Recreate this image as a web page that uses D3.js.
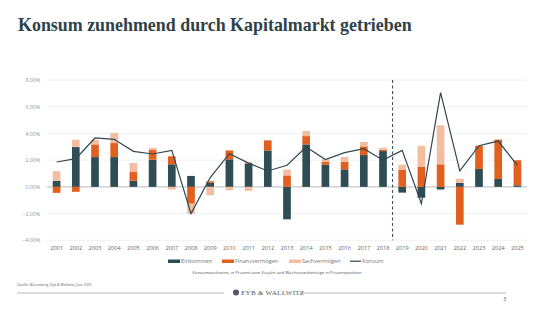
<!DOCTYPE html>
<html>
<head>
<meta charset="utf-8">
<script src="https://cdn.jsdelivr.net/npm/d3@7"></script>
<style>
  body { margin: 0; background: #fff; }
  svg { display: block; }
</style>
</head>
<body>
<div id="chart"></div>
<script>
// data (percent / percentage points)
const years = ["2001","2002","2003","2004","2005","2006","2007","2008","2009","2010","2011","2012","2013",
               "2014","2015","2016","2017","2018","2019","2020","2021","2022","2023","2024","2025"];
const einkommen = [0.45, 2.98, 2.23, 2.23, 0.46, 2.03, 1.69, 0.82, 0.3, 2.06, 1.74, 2.73, -2.43,
                   3.18, 1.66, 1.31, 2.38, 2.68, -0.43, -0.81, -0.2, 0.3, 1.34, 0.59, 0.12];
const finanz = [-0.45, -0.37, 0.95, 1.05, 0.65, 0.75, 0.6, -1.26, 0.12, 0.67, 0.08, 0.75, 0.86,
                0.62, 0.2, 0.55, 0.65, 0.1, 1.29, 1.5, 1.69, -2.83, 1.74, 2.94, 1.87];
const sach = [0.72, 0.55, 0.35, 0.75, 0.67, 0.15, -0.2, -0.75, -0.63, -0.25, -0.3, 0, 0.43,
              0.38, 0.2, 0.37, 0.33, 0.15, 0.37, 1.58, 2.92, 0.31, 0, 0.05, 0];
const konsum = [1.86, 2.11, 3.66, 3.56, 2.66, 2.46, 2.73, -2.0, 0.7, 2.48, 1.78, 1.19, 1.62,
                2.98, 2.04, 2.56, 2.86, 2.0, 2.73, -1.26, 7.06, 1.19, 3.08, 3.43, 1.61];
const yTicks = [-4, -2, 0, 2, 4, 6, 8];
const seriesNames = ["Einkommen", "Finanzvermögen", "Sachvermögen"];
const colors = ["#2f4d55", "#e2601f", "#f3bda1"];
const lineName = "Konsum";
const forecastFrom = "2019";

const W = 552, H = 310;
const svg = d3.select("#chart").append("svg").attr("width", W).attr("height", H);

// title
const title = svg.append("text")
  .attr("x", 18).attr("y", 31)
  .attr("fill", "#2f4248")
  .style("font-family", "'Liberation Serif', serif")
  .style("font-weight", "bold")
  .style("font-size", "18px")
  .text("Konsum zunehmend durch Kapitalmarkt getrieben");
const tw = title.node().getComputedTextLength();
title.style("font-size", (18 * 394 / tw).toFixed(2) + "px");

const x = d3.scaleBand().domain(years).range([47, 527]).paddingInner(0.6).paddingOuter(0.3);
const y = d3.scaleLinear().domain([-4, 8]).range([240.3, 80]);

// grid
svg.append("g").selectAll("line").data(yTicks).join("line")
  .attr("x1", 47).attr("x2", 527)
  .attr("y1", d => y(d)).attr("y2", d => y(d))
  .attr("stroke", d => d === 0 ? "#c9c9c9" : "#ececec")
  .attr("stroke-width", d => d === 0 ? 1.2 : 0.8);

// y axis labels
const yAxis = svg.append("g").attr("transform", "translate(40,0)")
  .call(d3.axisLeft(y).tickValues(yTicks).tickSize(0).tickPadding(0)
    .tickFormat(d => d3.format(".2f")(d) + "%"));
yAxis.select(".domain").remove();
yAxis.selectAll("text")
  .attr("fill", "#8a9aa0")
  .style("font-family", "'Open Sans', sans-serif")
  .style("font-size", "5.2px");

// stacked bars
const rows = years.map((yr, i) => ({ year: yr, e: einkommen[i], f: finanz[i], s: sach[i] }));
const stack = d3.stack().keys(["e", "f", "s"]).offset(d3.stackOffsetDiverging);
const layers = stack(rows);
svg.append("g").selectAll("g").data(layers).join("g")
  .attr("fill", (d, i) => colors[i])
  .selectAll("rect").data(d => d).join("rect")
  .attr("x", d => x(d.data.year))
  .attr("width", x.bandwidth())
  .attr("y", d => y(Math.max(d[0], d[1])))
  .attr("height", d => Math.abs(y(d[0]) - y(d[1])));

// forecast divider
const xDiv = x(forecastFrom) - x.step() * x.paddingInner() / 2;
svg.append("line")
  .attr("x1", xDiv).attr("x2", xDiv)
  .attr("y1", y(8)).attr("y2", y(-4))
  .attr("stroke", "#2f4248").attr("stroke-width", 1)
  .attr("stroke-dasharray", "3,2.5");

// line
const line = d3.line()
  .x((d, i) => x(years[i]) + x.bandwidth() / 2)
  .y(d => y(d));
svg.append("path").datum(konsum)
  .attr("d", line)
  .attr("fill", "none")
  .attr("stroke", "#2f474f")
  .attr("stroke-width", 1.2);

// x labels
const xAxis = svg.append("g").attr("transform", "translate(0,246)")
  .call(d3.axisBottom(x).tickSize(0).tickPadding(0));
xAxis.select(".domain").remove();
xAxis.selectAll("text")
  .attr("fill", "#666")
  .style("font-family", "'Open Sans', sans-serif")
  .style("font-size", "5.6px");

// legend
const legend = svg.append("g").style("font-family", "'Open Sans', sans-serif").style("font-size", "5.6px");
const legX = [168, 222, 289];
seriesNames.forEach((n, i) => {
  legend.append("rect").attr("x", legX[i]).attr("y", 259.5).attr("width", 12).attr("height", 3.5).attr("fill", colors[i]);
  legend.append("text").attr("x", legX[i] + 13).attr("y", 263).attr("fill", "#777").text(n);
});
legend.append("line").attr("x1", 350).attr("x2", 361).attr("y1", 261.2).attr("y2", 261.2)
  .attr("stroke", "#2f474f").attr("stroke-width", 1.2);
legend.append("text").attr("x", 362).attr("y", 263).attr("fill", "#777").text(lineName);

// note
svg.append("text").attr("x", 277).attr("y", 273.5).attr("text-anchor", "middle")
  .attr("fill", "#555")
  .style("font-family", "'Open Sans', sans-serif").style("font-size", "4.2px")
  .text("Konsumwachstum, in Prozent zum Vorjahr und Wachstumsbeiträge in Prozentpunkten");

// source
svg.append("text").attr("x", 17).attr("y", 285.5)
  .attr("fill", "#666")
  .style("font-family", "'Open Sans', sans-serif").style("font-size", "3.6px")
  .text("Quelle: Bloomberg, Eyb & Wallwitz, Juni 2025");

// footer
svg.append("line").attr("x1", 17).attr("x2", 224).attr("y1", 293).attr("y2", 293).attr("stroke", "#888").attr("stroke-width", 0.6);
svg.append("line").attr("x1", 300).attr("x2", 506).attr("y1", 293).attr("y2", 293).attr("stroke", "#888").attr("stroke-width", 0.6);
svg.append("circle").attr("cx", 236).attr("cy", 292.5).attr("r", 3).attr("fill", "#556");
svg.append("text").attr("x", 241).attr("y", 295)
  .attr("fill", "#556")
  .style("font-family", "'Liberation Serif', serif").style("font-size", "7px").style("letter-spacing", "0.3px")
  .text("EYB & WALLWITZ");
svg.append("text").attr("x", 506).attr("y", 301).attr("text-anchor", "end")
  .attr("fill", "#444")
  .style("font-family", "'Open Sans', sans-serif").style("font-size", "5px")
  .text("3");
</script>
</body>
</html>
